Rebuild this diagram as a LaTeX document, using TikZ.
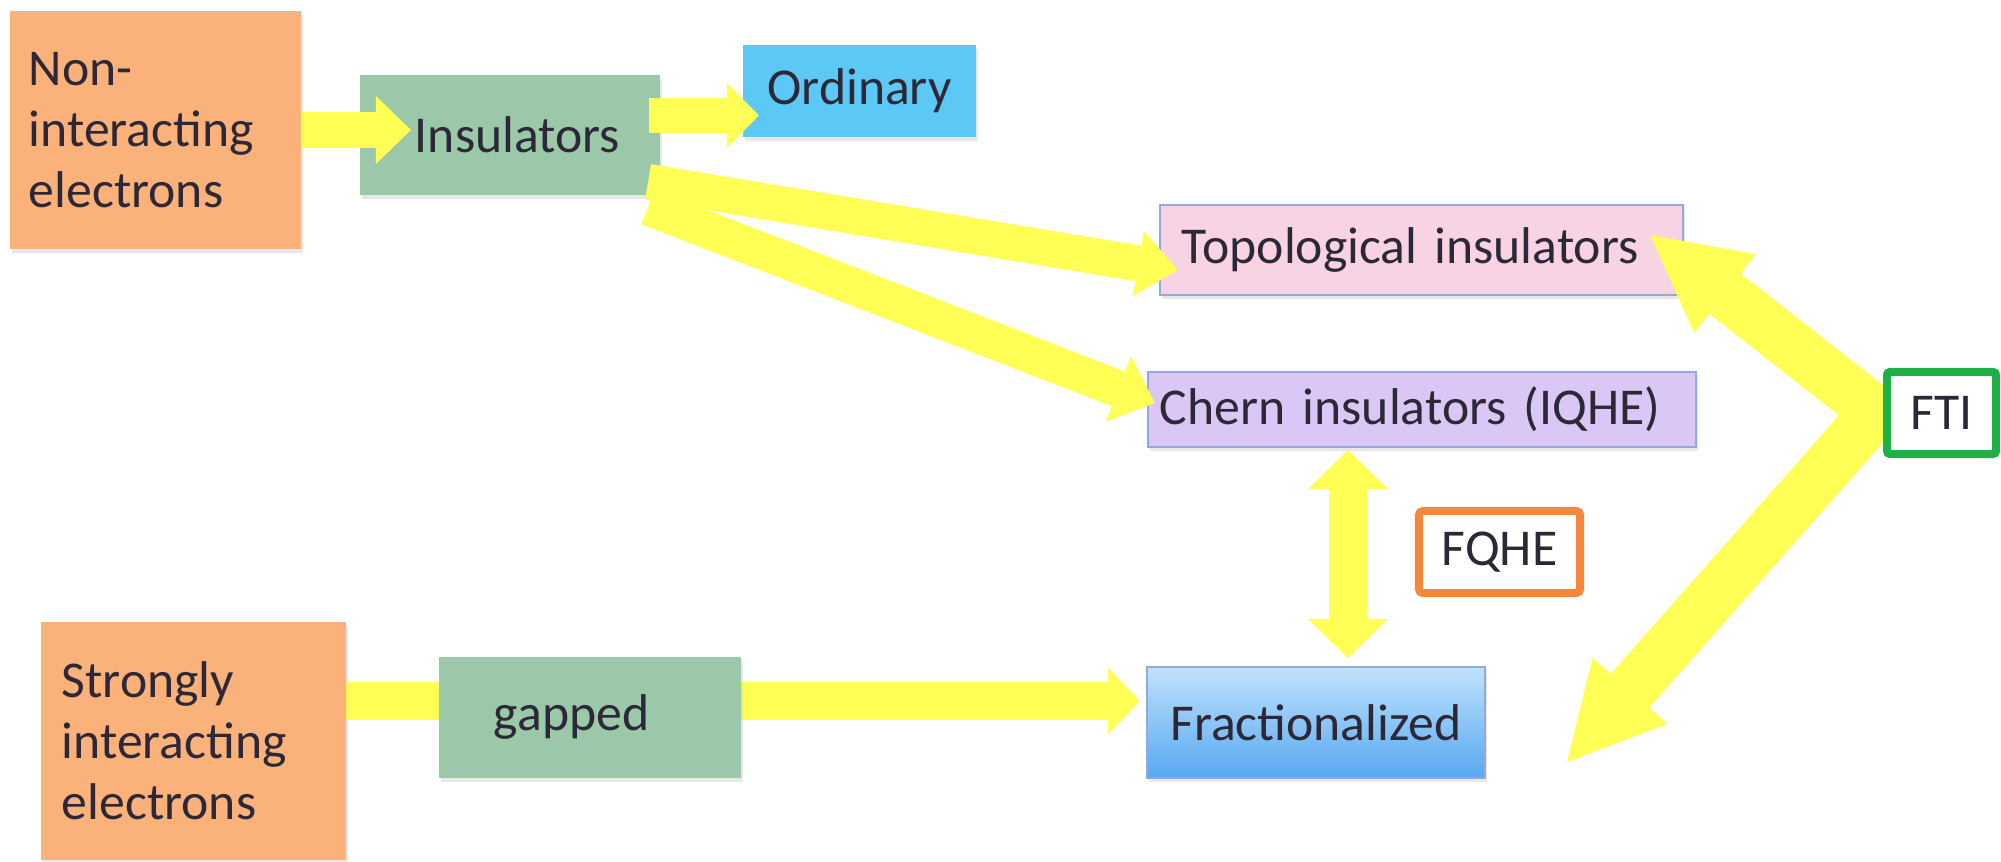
\documentclass[tikz,border=0pt]{standalone}
\usepackage{fontspec}
\setmainfont{Carlito}
\usetikzlibrary{arrows.meta,calc,shadows}
\definecolor{yel}{RGB}{255,255,85}
\definecolor{peach}{RGB}{250,178,122}
\definecolor{sage}{RGB}{155,200,168}
\definecolor{sky}{RGB}{92,200,245}
\definecolor{pinkb}{RGB}{248,211,228}
\definecolor{lav}{RGB}{218,199,246}
\definecolor{fractop}{RGB}{192,226,252}
\definecolor{fracbot}{RGB}{88,168,240}
\definecolor{edgeb}{RGB}{143,170,220}
\definecolor{fqheor}{RGB}{244,135,60}
\definecolor{ftigr}{RGB}{32,176,72}
\definecolor{txt}{RGB}{45,40,55}
\pgfdeclarelayer{fg}
\pgfdeclarelayer{top}
\pgfsetlayers{main,fg,top}
\begin{document}
\begin{tikzpicture}[x=0.01cm,y=-0.01cm,
  every node/.style={font=\fontsize{14.7}{17.4}\selectfont, text=txt},
  box/.style n args={2}{minimum width=#1, minimum height=#2, inner sep=0pt, outer sep=0pt,
    drop shadow={shadow xshift=0.6pt, shadow yshift=-1.2pt, opacity=0.18}},
  framebox/.style n args={3}{draw=#3, line width=0.08cm, fill=white, rounded corners=0.04cm,
    minimum width=#1, minimum height=#2, inner sep=0pt, outer sep=0pt},
  yarr/.style n args={3}{draw=yel, line width=#1, line join=miter,
    -{Triangle[width=#2, length=#3, line width=0pt]}},
  yarrboth/.style n args={3}{draw=yel, line width=#1, line join=miter,
    {Triangle[width=#2, length=#3, line width=0pt]}-{Triangle[width=#2, length=#3, line width=0pt]}}
]
\useasboundingbox (0,0) rectangle (2001,862);

% main layer boxes
\node[box={2.91cm}{2.38cm}, fill=peach, text width=2.53cm, align=left] (ni) at (155.5,130) {Non-\\interacting\\electrons};
\node[box={3.00cm}{1.20cm}, fill=sage, text width=1.90cm, align=left] (ins) at (510,135) {Insulators};
\node[box={2.33cm}{0.92cm}, fill=sky] (ord) at (859.5,91) {Ordinary};
\node[box={5.23cm}{0.90cm}, fill=pinkb, draw=edgeb, line width=0.4pt, text width=4.79cm, align=left] (topo) at (1421.5,250) {Topological insulators};
\node[box={5.48cm}{0.75cm}, fill=lav, draw=edgeb, line width=0.4pt, text width=5.24cm, align=left] (chern) at (1422,409.5) {Chern insulators (IQHE)};
\node[box={3.38cm}{1.11cm}, top color=fractop, bottom color=fracbot, draw=edgeb, line width=0.4pt] (frac) at (1316,722.5) {Fractionalized};
\node[framebox={1.61cm}{0.82cm}{fqheor}] (fqhe) at (1499.5,552) {FQHE};
\node[box={3.05cm}{2.38cm}, fill=peach, text width=2.63cm, align=left] (strong) at (193.5,741) {Strongly\\interacting\\electrons};

% top layer boxes
\begin{pgfonlayer}{top}
\node[box={3.02cm}{1.21cm}, fill=sage, text width=1.92cm, align=left] (gap) at (590,717.5) {gapped};
\node[framebox={1.09cm}{0.82cm}{ftigr}, rounded corners=0.03cm] (fti) at (1941.5,413) {FTI};
\end{pgfonlayer}

% arrows
\begin{pgfonlayer}{fg}
\draw[yarr={0.36cm}{0.68cm}{0.35cm}] (ni.east) -- ($(ins.west)+(51,-5)$);
\draw[yarr={0.35cm}{0.65cm}{0.32cm}] ($(ins.east)+(-11,-19.5)$) -- ($(ord.west)+(16,24.5)$);
\draw[yarr={0.36cm}{0.66cm}{0.40cm}] ($(ins.south east)+(-12,-13)$) -- ($(topo.west)+(18,20)$);
\draw[yarr={0.37cm}{0.70cm}{0.39cm}] ($(ins.south east)+(-12,12)$) -- ($(chern.west)+(7,-6.5)$);
\draw[yarrboth={0.38cm}{0.80cm}{0.39cm}] ($(chern.south)+(-74,3)$) -- ($(frac.north)+(32,-9)$);
\draw[yarrboth={0.51cm}{1.00cm}{0.95cm}] ($(topo.east)+(-33,-15)$) -- ($(fti.west)+(-11,-1)$) -- ($(frac.east)+(82,39.5)$);
\draw[yarr={0.37cm}{0.67cm}{0.32cm}] ($(strong.east)+(0,-40)$) -- ($(frac.west)+(-7,-21.5)$);
\end{pgfonlayer}
\end{tikzpicture}
\end{document}
